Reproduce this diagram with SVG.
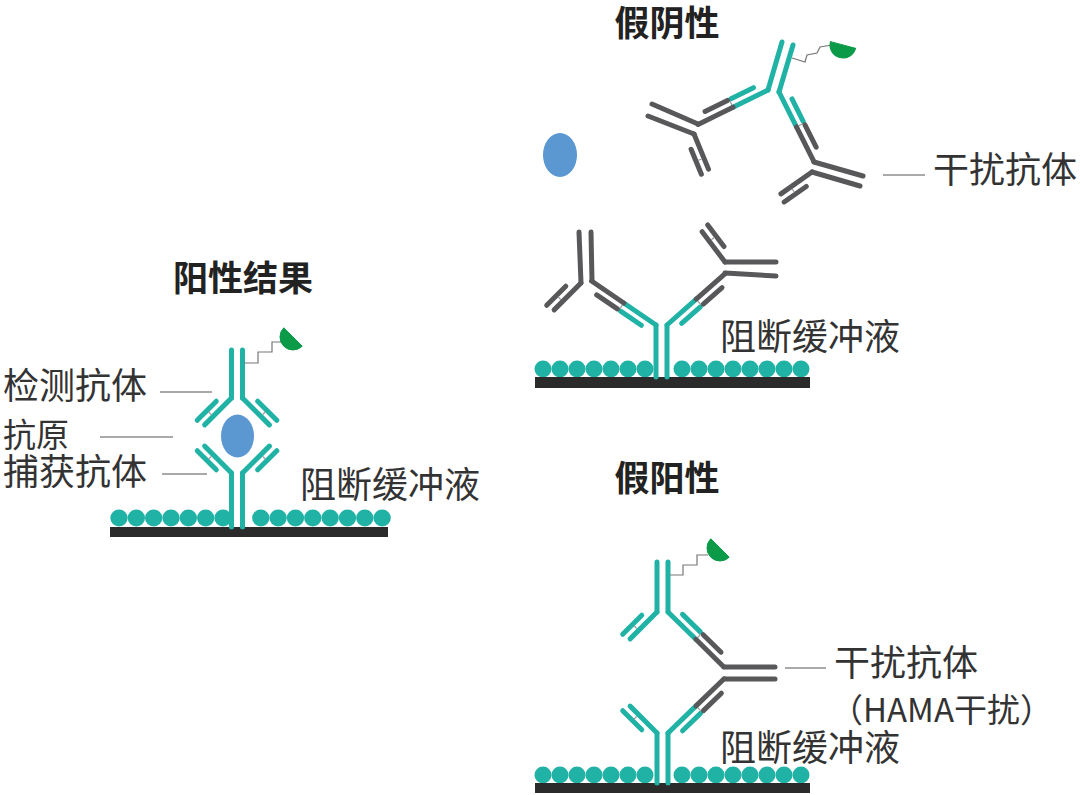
<svg xmlns="http://www.w3.org/2000/svg" xmlns:xlink="http://www.w3.org/1999/xlink" width="1080" height="795" viewBox="0 0 1080 795">
<style>
.t{stroke:#21b2a6;stroke-width:5;fill:none;stroke-linecap:round}
.g{stroke:#58585a;stroke-width:5;fill:none;stroke-linecap:round}
.c{stroke:#999;stroke-width:1.2;fill:none}
.lk{stroke:#777;stroke-width:1.2;fill:none}
.ld{stroke:#555;stroke-width:1.2;fill:none}
.bead{fill:#21b2a6}
.bar{fill:#2b2b2b}
.ag{fill:#5b97d1}
.lab{stroke:#0a9a48;fill:#0a9a48}
.tx{font-family:"Noto Sans CJK SC","Noto Sans",sans-serif;font-size:36px;fill:#333}
.sm{font-size:33px}
.ti{font-family:"Noto Sans CJK SC","Noto Sans",sans-serif;font-size:35px;font-weight:bold;fill:#222}
</style>
<defs>
<g id="armT"><path class="t" d="M0,0 L38,0 M13,8.5 L40,8.5"/><path class="c" d="M26,2.5 V6.5"/></g>
<g id="armG"><path class="g" d="M0,0 L38,0 M13,8.5 L40,8.5"/><path class="c" d="M26,2.5 V6.5"/></g>
<g id="brTG"><path class="t" d="M0,0 L39,0 M12,8.5 L37,8.5"/><path class="g" d="M39,0 L78,0 M41,8.5 L66,8.5"/><path class="c" d="M39,2.5 V6.5"/></g>
<g id="beads">
<circle class="bead" cx="0" cy="0" r="8.5"/><circle class="bead" cx="17" cy="0" r="8.5"/><circle class="bead" cx="34" cy="0" r="8.5"/><circle class="bead" cx="51" cy="0" r="8.5"/><circle class="bead" cx="68" cy="0" r="8.5"/><circle class="bead" cx="85" cy="0" r="8.5"/><circle class="bead" cx="102" cy="0" r="8.5"/>
<circle class="bead" cx="139" cy="0" r="8.5"/><circle class="bead" cx="156" cy="0" r="8.5"/><circle class="bead" cx="173" cy="0" r="8.5"/><circle class="bead" cx="190" cy="0" r="8.5"/><circle class="bead" cx="207" cy="0" r="8.5"/><circle class="bead" cx="224" cy="0" r="8.5"/><circle class="bead" cx="241" cy="0" r="8.5"/><circle class="bead" cx="258" cy="0" r="8.5"/>
</g>
<path id="half" d="M-9.2,-9.2 A13,13 0 0 0 9.2,9.2 Z"/>
</defs>

<g id="positive">
<use href="#beads" transform="translate(119,518) scale(1.02,1)"/>
<rect class="bar" x="110" y="527" width="278" height="10"/>
<g id="capture1"><path class="t" d="M231.5,473 V527 M242.5,473 V527"/>
<use href="#armT" transform="translate(231.5,473) rotate(225) scale(1,-1)"/>
<use href="#armT" transform="translate(242.5,473) rotate(-45)"/></g>
<ellipse id="antigen1" class="ag" cx="237.5" cy="436" rx="16.5" ry="21.5"/>
<g id="detect1"><path class="t" d="M231.5,350 V398 M242.5,350 V398"/>
<use href="#armT" transform="translate(231.5,398) rotate(135)"/>
<use href="#armT" transform="translate(242.5,398) rotate(45) scale(1,-1)"/>
<polyline class="lk" points="244,363 258,363 258,352 272,352 272,342 283,342"/>
<use href="#half" class="lab" transform="translate(293,337)"/></g>
</g>

<g id="falseneg">
<use href="#beads" transform="translate(543,369)"/>
<rect class="bar" x="535" y="377" width="275" height="11"/>
<g id="capture2"><path class="t" d="M656,325 V377 M667,325 V377"/>
<use href="#brTG" transform="translate(656,325) rotate(214.3) scale(1,-1)"/>
<use href="#brTG" transform="translate(667,325) rotate(-41.5)"/></g>
<g id="hama1"><path class="g" d="M579,232 L581,283 M591,232 L592,281"/>
<use href="#armG" transform="translate(581,283) rotate(135)"/></g>
<g id="hama2"><path class="g" d="M725,262 L776,262 M725,273 L776,276"/>
<use href="#armG" transform="translate(725,262) rotate(233)"/></g>
<ellipse id="antigen2" class="ag" cx="560" cy="155" rx="17" ry="22"/>
<g id="detect2"><path class="t" d="M782,42 L768,90 M793,45 L779,92"/>
<use href="#brTG" transform="translate(768,90) rotate(153.8)"/>
<use href="#brTG" transform="translate(779,92) rotate(63.4) scale(1,-1)"/>
<polyline class="lk" points="792,58 805,62 807,55 817,53 820,47 832,45"/>
<use href="#half" class="lab" transform="translate(843,45) rotate(-30)"/></g>
<g id="hama3"><path class="g" d="M698,124 L652,104 M694,134 L648,116"/>
<use href="#armG" transform="translate(694,134) rotate(67.6)"/></g>
<g id="hama4"><path class="g" d="M814,162 L863,176 M812,172 L860,186"/>
<use href="#armG" transform="translate(812,172) rotate(144.9) scale(1,-1)"/></g>
</g>

<g id="falsepos">
<use href="#beads" transform="translate(543,775)"/>
<rect class="bar" x="535" y="783" width="275" height="10"/>
<g id="capture3"><path class="t" d="M657,733 V783 M668,733 V783"/>
<use href="#armT" transform="translate(657,733) rotate(225) scale(1,-1)"/>
<use href="#brTG" transform="translate(668,733) rotate(-44)"/></g>
<g id="hama5"><path class="g" d="M724,679 L775,679 M724,667 L775,667"/></g>
<g id="detect3"><path class="t" d="M657,562 V612 M668,562 V612"/>
<use href="#armT" transform="translate(657,612) rotate(135)"/>
<use href="#brTG" transform="translate(668,612) rotate(44.5) scale(1,-1)"/>
<polyline class="lk" points="670,575 683,575 683,565 697,565 697,555 708,555"/>
<use href="#half" class="lab" transform="translate(720,548)"/></g>
</g>

<g id="connectors">
<path class="ld" d="M160,392 H212 M100,437 H173 M162,474 H207 M883,175 H925 M785,668 H826"/>
</g>

<g id="labels">
<text class="ti" x="243" y="291" text-anchor="middle">阳性结果</text>
<text class="tx" x="3" y="399">检测抗体</text>
<text class="tx sm" x="3" y="447">抗原</text>
<text class="tx" x="3" y="485">捕获抗体</text>
<text class="tx" x="300" y="498">阻断缓冲液</text>
<text class="ti" x="667" y="36" text-anchor="middle">假阴性</text>
<text class="tx" x="933" y="183">干扰抗体</text>
<text class="tx" x="720" y="350">阻断缓冲液</text>
<text class="ti" x="667" y="491" text-anchor="middle">假阳性</text>
<text class="tx" x="834" y="676">干扰抗体</text>
<text class="tx sm" x="830" y="722">（HAMA干扰）</text>
<text class="tx" x="720" y="761">阻断缓冲液</text>
</g>
</svg>
